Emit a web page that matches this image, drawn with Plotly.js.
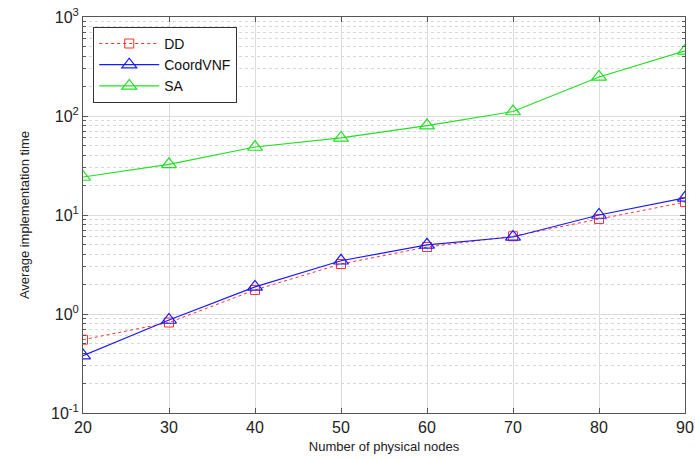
<!DOCTYPE html>
<html><head><meta charset="utf-8">
<script src="https://cdn.plot.ly/plotly-3.0.1.min.js"></script>
<style>html,body{margin:0;padding:0;background:#fff}#c{width:695px;height:459px}</style>
</head><body><div id="c"></div>
<script>
const nodes = [20, 30, 40, 50, 60, 70, 80, 90];
const dd = [0.55, 0.82, 1.75, 3.2, 4.75, 6.1, 9.1, 13.5];
const coordVNF = [0.38, 0.87, 1.88, 3.45, 5.0, 6.0, 10.0, 14.9];
const sa = [24.2, 32.5, 48.6, 60, 80, 111, 248, 455];
const yTickVals = [0.1, 1, 10, 100, 1000];
const yTickText = ['10<sup>-1</sup>', '10<sup>0</sup>', '10<sup>1</sup>', '10<sup>2</sup>', '10<sup>3</sup>'];
const xTickVals = [20, 30, 40, 50, 60, 70, 80, 90];

const minorVals = [];
[0.1, 1, 10, 100].forEach(d => { for (let k = 2; k <= 9; k++) minorVals.push(d * k); });

const traces = [
  {x: nodes, y: dd, name: 'DD', mode: 'lines+markers',
   line: {color: '#ff3030', width: 1, dash: 'dot'},
   marker: {symbol: 'square-open', size: 9, color: '#ff3030', line: {width: 1}}},
  {x: nodes, y: coordVNF, name: 'CoordVNF', mode: 'lines+markers',
   line: {color: '#1a1aff', width: 1.2},
   marker: {symbol: 'triangle-up-open', size: 13, color: '#1a1aff', line: {width: 1.2}}},
  {x: nodes, y: sa, name: 'SA', mode: 'lines+markers',
   line: {color: '#22e022', width: 1.2},
   marker: {symbol: 'triangle-up-open', size: 13, color: '#22e022', line: {width: 1.2}}}
];

const layout = {
  width: 695, height: 459,
  margin: {l: 83, r: 10, t: 17, b: 46},
  paper_bgcolor: '#fff', plot_bgcolor: '#fff',
  font: {family: 'Liberation Sans, Arial, sans-serif', color: '#222'},
  showlegend: true,
  legend: {x: 0.017, y: 0.975, xanchor: 'left', yanchor: 'top',
    bgcolor: '#fff', bordercolor: '#333', borderwidth: 1,
    font: {size: 14, color: '#111'}, tracegroupgap: 0, itemwidth: 60},
  xaxis: {
    range: [20, 90], tickvals: xTickVals, ticktext: xTickVals.map(String),
    showgrid: true, gridcolor: '#dcdcdc', gridwidth: 1,
    showline: true, linecolor: '#555', linewidth: 1, mirror: 'allticks',
    ticks: 'inside', ticklen: 5, tickcolor: '#555', ticklabeloverflow: 'allow',
    tickfont: {size: 16, color: '#222'}, zeroline: false,
    title: {text: 'Number of physical nodes', font: {size: 13, color: '#222'}, standoff: 6}
  },
  yaxis: {
    type: 'log', range: [-1, 3], tickvals: yTickVals, ticktext: yTickText,
    showgrid: true, gridcolor: '#dcdcdc', gridwidth: 1,
    showline: true, linecolor: '#555', linewidth: 1, mirror: 'allticks',
    ticks: 'inside', ticklen: 5, tickcolor: '#555',
    tickfont: {size: 16, color: '#222'}, zeroline: false,
    minor: {tickvals: minorVals, showgrid: true, gridcolor: '#d8d8d8', griddash: 'dot',
      ticks: 'inside', ticklen: 3, tickcolor: '#555'},
    title: {text: 'Average implementation time', font: {size: 13, color: '#222'}, standoff: 18}
  }
};
Plotly.newPlot('c', traces, layout, {displayModeBar: false, staticPlot: true});
</script></body></html>
